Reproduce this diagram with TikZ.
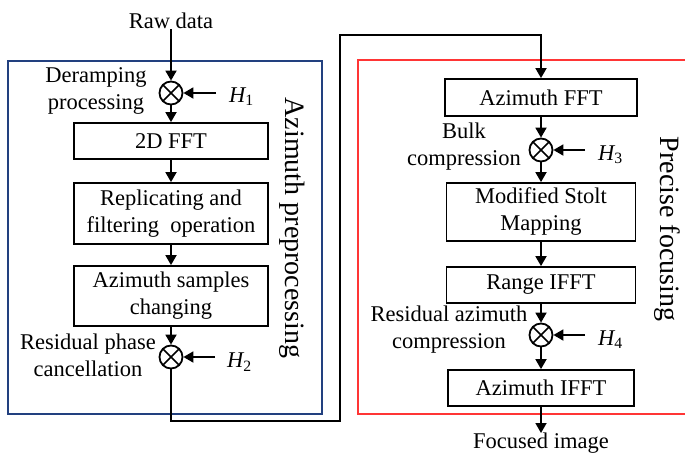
\documentclass[tikz,border=0pt]{standalone}
\usepackage{fontspec}
\setmainfont{Liberation Serif}
\usetikzlibrary{arrows.meta}
\definecolor{boxblue}{HTML}{22407F}
\definecolor{boxred}{HTML}{FF3535}
\tikzset{
  every node/.style={font=\fontsize{22.5}{27}\selectfont},
  procbox/.style={draw=black, line width=1.8pt, minimum height=36pt, inner sep=0pt, align=center},
  mult/.style={draw=black, line width=1.8pt, circle, minimum size=23pt, inner sep=0pt,
    path picture={\draw[line width=1.6pt] (path picture bounding box.center) +(45:11.5pt) -- +(225:11.5pt)
      (path picture bounding box.center) +(135:11.5pt) -- +(315:11.5pt);}},
  lbl/.style={align=center, inner sep=0pt},
  arr/.style={line width=1.8pt, -{Triangle[length=10pt,width=11pt]}},
  conn/.style={line width=1.8pt},
  sidelbl/.style={rotate=-90, inner sep=0pt, font=\fontsize{28}{32}\selectfont},
}
\newcommand{\Hsub}[1]{{\itshape H}\textsubscript{#1}}
\begin{document}
\begin{tikzpicture}[x=1pt,y=-1pt]
\useasboundingbox (0,0) rectangle (685,453);
% frames
\draw[boxblue, line width=1.1pt] (8,61) rectangle (322,414);
\draw[boxred, line width=1.1pt] (358,60) rectangle (688,414);
\node[sidelbl] (azpre) at (292,228) {Azimuth preprocessing};
\node[sidelbl] (precise) at (667,229) {Precise focusing};
% left column
\node[lbl] (raw) at (171,21) {Raw data};
\node[mult] (c1) at (171,93) {};
\node[lbl, anchor=west] (h1) at (229,97) {\Hsub{1}};
\coordinate (h1a) at (216,93);
\node[lbl] (deramp) at (96,91) {Deramping\\processing};
\node[procbox, minimum width=194pt] (fft2d) at (171,141) {2D FFT};
\node[procbox, minimum width=194pt, minimum height=61pt] (repl) at (171,213.5) {Replicating and\\filtering\ \ operation};
\node[procbox, minimum width=194pt, minimum height=60pt] (azs) at (171,296) {Azimuth samples\\changing};
\node[mult] (c2) at (171,357) {};
\node[lbl, anchor=west] (h2) at (227,362) {\Hsub{2}};
\coordinate (h2a) at (215,357);
\node[lbl] (resid) at (88,355) {Residual phase\\cancellation};
% right column
\node[procbox, minimum width=192pt, minimum height=37pt] (afft) at (541,97.5) {Azimuth FFT};
\node[mult] (c3) at (541,150) {};
\node[lbl, anchor=west] (h3) at (598,155) {\Hsub{3}};
\coordinate (h3a) at (585,150);
\node[lbl] (bulk) at (464,147) {Bulk\\compression};
\node[procbox, minimum width=189pt, minimum height=58pt] (msm) at (541,212) {Modified Stolt\\Mapping};
\node[procbox, minimum width=189pt] (rifft) at (541,285) {Range IFFT};
\node[mult] (c4) at (541,335) {};
\node[lbl, anchor=west] (h4) at (598,340) {\Hsub{4}};
\coordinate (h4a) at (585,335);
\node[lbl] (resaz) at (449,330) {Residual azimuth\\compression};
\node[procbox, minimum width=186pt] (aifft) at (541,388) {Azimuth IFFT};
\node[lbl, anchor=north] (out) at (541,433) {Focused image};
% connectors
\draw[arr] (raw) -- (c1);
\draw[arr] (h1a) -- (c1);
\draw[arr] (c1) -- (fft2d);
\draw[arr] (fft2d) -- (repl);
\draw[arr] (repl) -- (azs);
\draw[arr] (azs) -- (c2);
\draw[arr] (h2a) -- (c2);
\coordinate (k1) at (171,421);
\coordinate (k2) at (340,421);
\coordinate (k3) at (340,35);
\coordinate (k4) at (541,35);
\draw[arr] (c2) -- (k1) -- (k2) -- (k3) -- (k4) -- (afft);
\draw[arr] (afft) -- (c3);
\draw[arr] (h3a) -- (c3);
\draw[arr] (c3) -- (msm);
\draw[arr] (msm) -- (rifft);
\draw[arr] (rifft) -- (c4);
\draw[arr] (h4a) -- (c4);
\draw[arr] (c4) -- (aifft);
\draw[arr] (aifft) -- (out);
\end{tikzpicture}
\end{document}
